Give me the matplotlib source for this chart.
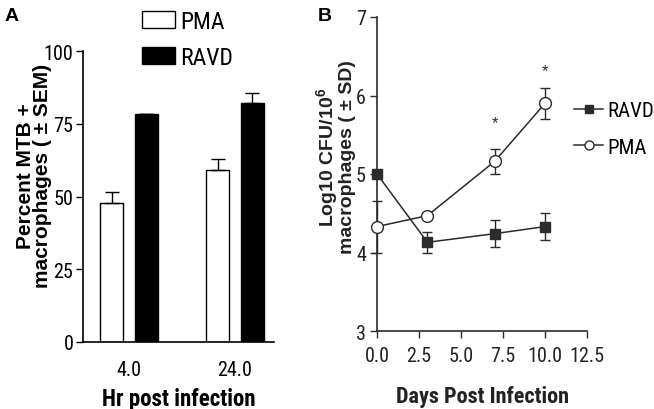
import matplotlib
matplotlib.use("Agg")
import matplotlib.pyplot as plt
from matplotlib.patches import Patch
from matplotlib.lines import Line2D
import numpy as np

# ---------------- data ----------------
# Panel A
hours_labels = ["4.0", "24.0"]
pma_pct = [47.8, 59.0]
pma_pct_sem = [3.7, 4.0]
ravd_pct = [78.4, 82.0]
ravd_pct_sem = [0.0, 3.5]

# Panel B
days = [0, 3, 7, 10]
ravd_log = [5.00, 4.13, 4.24, 4.33]
ravd_log_sd = [0.0, 0.13, 0.17, 0.17]
pma_log = [4.33, 4.47, 5.16, 5.90]
pma_log_sd = [0.33, 0.0, 0.16, 0.20]
star_days = [7, 10]
star_y = [5.72, 6.38]

NARROW = ["Roboto Condensed", "Archivo Narrow", "PT Sans Narrow", "DejaVu Sans"]
SANS = ["Liberation Sans", "Arimo", "DejaVu Sans"]

plt.rcParams["mathtext.fontset"] = "custom"
plt.rcParams["mathtext.rm"] = "Liberation Sans:bold"
plt.rcParams["mathtext.bf"] = "Liberation Sans:bold"

W, H = 654, 410
fig = plt.figure(figsize=(W / 100, H / 100), dpi=100)
fig.patch.set_facecolor("white")

def px_axes(l, t, r, b):
    return fig.add_axes([l / W, 1 - b / H, (r - l) / W, (b - t) / H])

# ---------------- Panel A ----------------
axA = px_axes(83, 52, 274, 343)
xg = np.arange(len(hours_labels))
off, bw = 0.165, 0.217
axA.bar(xg - off, pma_pct, bw, color="white", edgecolor="black", linewidth=1.0, zorder=2)
axA.bar(xg + off, ravd_pct, bw, color="black", edgecolor="black", linewidth=1.0, zorder=2)
axA.errorbar(xg - off, pma_pct, yerr=[np.zeros(2), pma_pct_sem], fmt="none",
             ecolor="black", elinewidth=1.0, capsize=5, capthick=1.0, zorder=3)
axA.errorbar(xg + off, ravd_pct, yerr=[np.zeros(2), ravd_pct_sem], fmt="none",
             ecolor="black", elinewidth=1.0, capsize=5, capthick=1.0, zorder=3)
axA.set_xlim(-0.434, 1.368)
axA.set_ylim(0, 100)
axA.set_yticks([0, 25, 50, 75, 100])
axA.set_xticks(xg)
axA.set_xticklabels(hours_labels)
for s in ["top", "right"]:
    axA.spines[s].set_visible(False)
for s in ["left", "bottom"]:
    axA.spines[s].set_linewidth(1.2)
axA.tick_params(axis="y", direction="out", length=5, width=1.0, pad=2)
axA.tick_params(axis="x", length=0, pad=13)
for lab in axA.get_xticklabels() + axA.get_yticklabels():
    lab.set_fontfamily(NARROW)
    lab.set_fontsize(14.5)
axA.set_xlabel("Hr post infection", fontfamily=NARROW, fontsize=16.5,
               fontweight="semibold", labelpad=6)
fig.text(34 / W, 1 - 176 / H, "Percent MTB +\nmacrophages ( \u00b1 SEM)",
         rotation=90, ha="center", va="center", fontfamily=SANS,
         fontweight="bold", fontsize=15, linespacing=0.88)
legA = axA.legend(handles=[Patch(facecolor="white", edgecolor="black", linewidth=1.0),
                           Patch(facecolor="black", edgecolor="black", linewidth=1.0)],
                  labels=["PMA", "RAVD"], loc="upper left",
                  bbox_to_anchor=(142 / W, 1 - 11 / H), bbox_transform=fig.transFigure,
                  frameon=False, borderpad=0, borderaxespad=0, handlelength=1.4,
                  handleheight=0.72, handletextpad=0.2, labelspacing=0.55,
                  prop={"family": NARROW, "size": 17})
fig.text(5 / W, 1 - 21 / H, "A", fontfamily=SANS, fontweight="bold", fontsize=14,
         ha="left", va="baseline")

# ---------------- Panel B ----------------
axB = px_axes(377, 18, 587, 332)
lc = "#2b2b2b"
axB.errorbar(days, ravd_log, yerr=ravd_log_sd, color=lc, marker="s", markersize=7.5,
             markerfacecolor=lc, markeredgecolor=lc, linewidth=1.1, elinewidth=1.0,
             capsize=3.5, capthick=1.0, clip_on=False, zorder=3)
axB.errorbar(days, pma_log, yerr=pma_log_sd, color=lc, marker="o", markersize=8.5,
             markerfacecolor="white", markeredgecolor=lc, markeredgewidth=1.0,
             linewidth=1.1, elinewidth=1.0, capsize=3.5, capthick=1.0,
             clip_on=False, zorder=3)
for d, y in zip(star_days, star_y):
    axB.annotate("*", xy=(d, y), xytext=(0, -7), textcoords="offset points",
                 ha="center", va="baseline", fontsize=12, fontfamily=SANS, color=lc)
axB.set_xlim(0, 12.5)
axB.set_ylim(3, 7)
axB.set_xticks([0, 2.5, 5.0, 7.5, 10.0, 12.5])
axB.set_xticklabels(["0.0", "2.5", "5.0", "7.5", "10.0", "12.5"])
axB.set_yticks([3, 4, 5, 6, 7])
for s in ["top", "right"]:
    axB.spines[s].set_visible(False)
for s in ["left", "bottom"]:
    axB.spines[s].set_linewidth(1.2)
    axB.spines[s].set_color(lc)
axB.tick_params(axis="both", direction="out", length=5, width=1.0, pad=3, colors=lc)
axB.tick_params(axis="x", pad=6)
for lab in axB.get_xticklabels() + axB.get_yticklabels():
    lab.set_fontfamily(NARROW)
    lab.set_fontsize(14.5)
    lab.set_color("#222222")
axB.set_xlabel("Days Post Infection", fontfamily=NARROW, fontsize=16,
               fontweight="bold", labelpad=14, color="#222222")
fig.text(335 / W, 1 - 157 / H, "Log10 CFU/10$^{6}$\nmacrophages ( \u00b1 SD)",
         rotation=90, ha="center", va="center", fontfamily=SANS,
         fontweight="bold", fontsize=14, linespacing=0.85, color="#222222")
hB = [Line2D([], [], color=lc, marker="s", markersize=5.5, markerfacecolor=lc,
             linewidth=1.1),
      Line2D([], [], color=lc, marker="o", markersize=6.5, markerfacecolor="white",
             markeredgecolor=lc, linewidth=1.1)]
axB.legend(handles=hB, labels=["RAVD", "PMA"], loc="upper left",
           bbox_to_anchor=(574 / W, 1 - 102 / H), bbox_transform=fig.transFigure,
           frameon=False, borderpad=0, borderaxespad=0, handlelength=1.4,
           handletextpad=0.2, labelspacing=0.85, numpoints=1,
           prop={"family": NARROW, "size": 15})
fig.text(318 / W, 1 - 21 / H, "B", fontfamily=SANS, fontweight="bold", fontsize=14,
         ha="left", va="baseline")

fig.savefig("out.png", dpi=100, facecolor="white")
